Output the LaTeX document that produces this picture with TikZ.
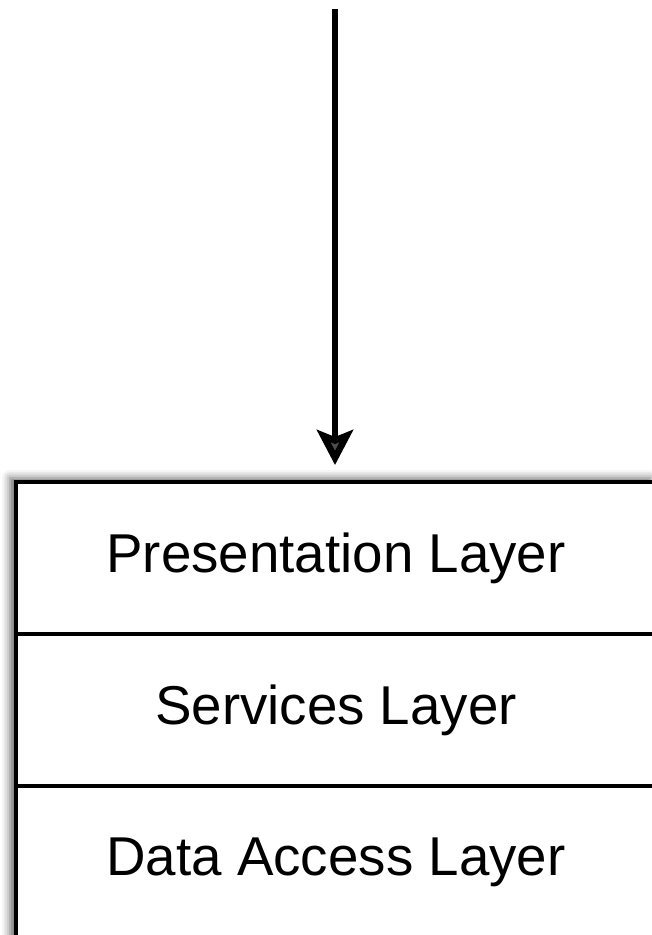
\documentclass[tikz,border=0pt]{standalone}
\usepackage{fontspec}
\setmainfont{Liberation Sans}
\usetikzlibrary{arrows.meta,shadows.blur}
\begin{document}
\begin{tikzpicture}[x=1pt,y=-1pt,
  layer/.style={draw=black, line width=4pt, fill=white, minimum width=640pt,
    minimum height=152pt, inner sep=0pt, outer sep=0pt, anchor=north,
    font=\fontsize{54.7}{60}\selectfont},
  flow/.style={line width=6.5pt, -{Stealth[length=35pt,width=36pt,inset=7pt]}}]
\useasboundingbox (0,0) rectangle (652,935);
\clip (0,0) rectangle (652,935);
\fill[black!14, blur shadow={shadow xshift=-6pt, shadow yshift=4pt, shadow blur radius=8pt, shadow opacity=60}] (16,482) rectangle (656,1100);
\node[layer] (pres) at (336,482) {Presentation Layer};
\node[layer] (serv) at (pres.south) {Services Layer};
\node[layer] (data) at (serv.south) {Data Access Layer};
\coordinate (src) at (335,9);
\draw[flow] (src) -- ([yshift=17pt]src |- pres.north);
\end{tikzpicture}
\end{document}
